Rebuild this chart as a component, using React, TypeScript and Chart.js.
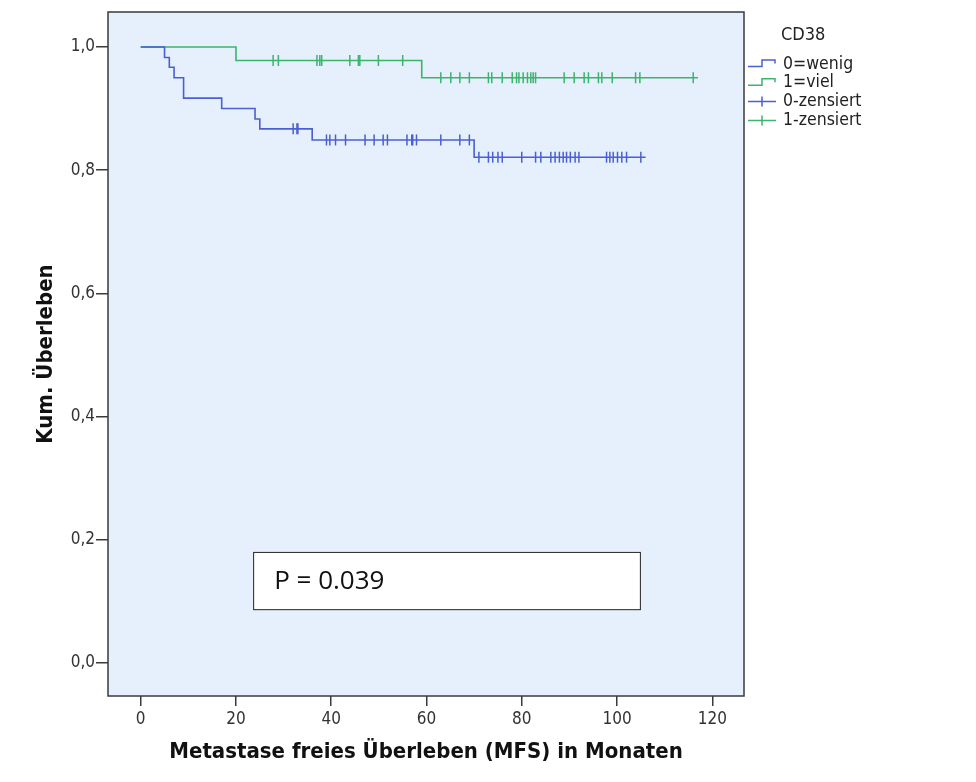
import React, { useEffect, useRef } from 'react';
import { Chart, registerables } from 'chart.js';

Chart.register(...registerables);

// ---------- data ----------
const legendTitle = 'CD38';
const groupLabels = ['0=wenig', '1=viel', '0-zensiert', '1-zensiert'];

const lowEventMonths = [0, 5, 6, 7, 9, 17, 24, 25, 36, 70, 106];
const lowSurvival = [1, 0.983, 0.967, 0.95, 0.917, 0.9, 0.883, 0.867, 0.849, 0.821, 0.821];

const highEventMonths = [0, 20, 59, 117];
const highSurvival = [1, 0.978, 0.95, 0.95];

const lowCensoredMonths = [
  32.0, 32.8, 33.0, 39.0, 39.7, 40.9, 43.0, 47.1, 49.0, 50.9, 51.8, 55.9, 56.9, 57.1, 57.9,
  63.0, 67.0, 69.0, 71.0, 73.0, 73.9, 75.0, 75.9, 80.0, 82.9, 84.0, 86.1, 87.0, 87.9, 88.7,
  89.4, 90.2, 91.2, 92.0, 97.8, 98.5, 99.2, 100.1, 101.0, 102.0, 105.0,
];
const highCensoredMonths = [
  27.8, 28.9, 37.0, 37.6, 38.0, 43.9, 45.7, 46.0, 49.9, 55.0, 63.0, 65.1, 67.0, 69.0, 73.0,
  73.7, 75.9, 78.0, 78.9, 79.4, 80.3, 81.2, 81.9, 82.4, 82.9, 88.9, 91.0, 93.1, 94.0, 96.1,
  96.8, 99.0, 103.9, 104.8, 116.0,
];

const xTickValues = [0, 20, 40, 60, 80, 100, 120];
const xTickLabels = ['0', '20', '40', '60', '80', '100', '120'];
const yTickValues = [0, 0.2, 0.4, 0.6, 0.8, 1.0];
const yTickLabels = ['0,0', '0,2', '0,4', '0,6', '0,8', '1,0'];

const xTitle = 'Metastase freies Überleben (MFS) in Monaten';
const yTitle = 'Kum. Überleben';
const pValueText = 'P = 0.039';

// ---------- styles ----------
const BLUE = '#4a5fd5';
const GREEN = '#3bb46c';
const BG = '#e6f0fc';
const AXIS = '#3a3a3a';
const TEXT = '#222222';
const FONT = '"DejaVu Sans Condensed", "DejaVu Sans", sans-serif';

function survivalAt(times: number[], surv: number[], t: number) {
  let s = surv[0];
  for (let i = 0; i < times.length; i++) {
    if (times[i] <= t) s = surv[i];
  }
  return s;
}

const extrasPlugin = {
  id: 'kmExtras',
  beforeDraw(chart: any) {
    const { ctx, chartArea: a } = chart;
    ctx.save();
    ctx.fillStyle = BG;
    ctx.fillRect(a.left, a.top, a.right - a.left, a.bottom - a.top);
    ctx.restore();
  },
  afterDatasetsDraw(chart: any) {
    const { ctx, chartArea: a, scales } = chart;
    ctx.save();
    // frame
    ctx.strokeStyle = AXIS;
    ctx.lineWidth = 1.5;
    ctx.strokeRect(a.left, a.top, a.right - a.left, a.bottom - a.top);
    // p-value box
    const x1 = scales.x.getPixelForValue(23.6);
    const x2 = scales.x.getPixelForValue(104.8);
    const y1 = scales.y.getPixelForValue(0.18);
    const y2 = scales.y.getPixelForValue(0.087);
    ctx.fillStyle = '#ffffff';
    ctx.fillRect(x1, y1, x2 - x1, y2 - y1);
    ctx.strokeStyle = '#222222';
    ctx.lineWidth = 1;
    ctx.strokeRect(x1 + 0.5, y1 + 0.5, x2 - x1, y2 - y1);
    ctx.fillStyle = '#111111';
    ctx.font = '26px "Open Sans", "Noto Sans", sans-serif';
    ctx.textBaseline = 'middle';
    ctx.textAlign = 'left';
    ctx.fillText(pValueText, x1 + 21, (y1 + y2) / 2 + 1);
    ctx.restore();
  },
  afterDraw(chart: any) {
    const { ctx, chartArea: a } = chart;
    ctx.save();
    const ix0 = a.right + 4;
    const ix1 = ix0 + 27;
    const ixm = ix0 + 14;
    const tx = ix0 + 35;
    ctx.fillStyle = TEXT;
    ctx.textBaseline = 'middle';
    ctx.textAlign = 'left';
    ctx.font = '18px ' + FONT;
    ctx.fillText(legendTitle, a.right + 37, a.top + 23);
    ctx.font = '17.5px ' + FONT;
    const colors = [BLUE, GREEN, BLUE, GREEN];
    groupLabels.forEach((label, i) => {
      const y = a.top + 52 + i * 18.8;
      ctx.strokeStyle = colors[i];
      ctx.lineWidth = 1.5;
      ctx.beginPath();
      if (i < 2) {
        ctx.moveTo(ix0, y + 2.5);
        ctx.lineTo(ixm, y + 2.5);
        ctx.lineTo(ixm, y - 4);
        ctx.lineTo(ix1, y - 4);
        ctx.lineTo(ix1, y - 0.5);
      } else {
        ctx.moveTo(ix0, y);
        ctx.lineTo(ix1 + 1, y);
        ctx.moveTo(ixm, y - 5);
        ctx.lineTo(ixm, y + 5);
      }
      ctx.stroke();
      ctx.fillStyle = TEXT;
      ctx.fillText(label, tx, y);
    });
    ctx.restore();
  },
};

export default function App() {
  const canvasRef = useRef<HTMLCanvasElement | null>(null);

  useEffect(() => {
    const canvas = canvasRef.current;
    if (!canvas) return;

    const lowLine = lowEventMonths.map((t, i) => ({ x: t, y: lowSurvival[i] }));
    const highLine = highEventMonths.map((t, i) => ({ x: t, y: highSurvival[i] }));
    const lowCens = lowCensoredMonths.map((t) => ({ x: t, y: survivalAt(lowEventMonths, lowSurvival, t) }));
    const highCens = highCensoredMonths.map((t) => ({ x: t, y: survivalAt(highEventMonths, highSurvival, t) }));

    const chart = new Chart(canvas, {
      type: 'line',
      data: {
        datasets: [
          {
            label: groupLabels[0],
            data: lowLine,
            borderColor: BLUE,
            borderWidth: 1.6,
            stepped: true,
            pointRadius: 0,
            fill: false,
          },
          {
            label: groupLabels[1],
            data: highLine,
            borderColor: GREEN,
            borderWidth: 1.6,
            stepped: true,
            pointRadius: 0,
            fill: false,
          },
          {
            label: groupLabels[2],
            data: lowCens,
            showLine: false,
            pointStyle: 'line',
            pointRotation: 90,
            pointRadius: 5.5,
            pointBorderWidth: 1.5,
            pointBorderColor: BLUE,
            borderColor: BLUE,
          },
          {
            label: groupLabels[3],
            data: highCens,
            showLine: false,
            pointStyle: 'line',
            pointRotation: 90,
            pointRadius: 5.5,
            pointBorderWidth: 1.5,
            pointBorderColor: GREEN,
            borderColor: GREEN,
          },
        ],
      },
      options: {
        animation: false,
        responsive: false,
        devicePixelRatio: 1,
        events: [],
        layout: { padding: { top: 12, right: 232, left: 0, bottom: 0 } },
        plugins: {
          legend: { display: false },
          tooltip: { enabled: false },
          title: { display: false },
        },
        scales: {
          x: {
            type: 'linear',
            min: -6.87,
            max: 126.66,
            afterFit: (s: any) => {
              s.height = 86;
            },
            afterBuildTicks: (s: any) => {
              s.ticks = xTickValues.map((v) => ({ value: v }));
            },
            border: { display: false },
            grid: {
              drawOnChartArea: false,
              drawTicks: true,
              tickLength: 10,
              color: AXIS,
              lineWidth: 1.5,
            },
            ticks: {
              padding: 3,
              color: '#333333',
              font: { family: FONT, size: 17 },
              maxRotation: 0,
              callback: (v: any) => {
                const i = xTickValues.indexOf(Number(v));
                return i >= 0 ? xTickLabels[i] : '';
              },
            },
            title: {
              display: true,
              text: xTitle,
              color: '#111111',
              font: { family: FONT, size: 22, weight: 'bold' },
              padding: { top: 0, bottom: 17 },
            },
          },
          y: {
            type: 'linear',
            min: -0.054,
            max: 1.0568,
            afterFit: (s: any) => {
              s.width = 108;
            },
            afterBuildTicks: (s: any) => {
              s.ticks = yTickValues.map((v) => ({ value: v }));
            },
            border: { display: false },
            grid: {
              drawOnChartArea: false,
              drawTicks: true,
              tickLength: 12,
              color: AXIS,
              lineWidth: 1.5,
            },
            ticks: {
              padding: 1,
              color: '#333333',
              font: { family: FONT, size: 17 },
              callback: (v: any) => {
                const i = yTickValues.findIndex((t) => Math.abs(t - Number(v)) < 1e-6);
                return i >= 0 ? yTickLabels[i] : '';
              },
            },
            title: {
              display: true,
              text: yTitle,
              color: '#111111',
              font: { family: FONT, size: 22, weight: 'bold' },
              padding: { top: 33, bottom: 0 },
            },
          },
        },
      },
      plugins: [extrasPlugin],
    });

    return () => {
      chart.destroy();
    };
  }, []);

  return (
    <div style={{ position: 'fixed', left: 0, top: 0, width: 976, height: 782, background: '#ffffff' }}>
      <canvas ref={canvasRef} width={976} height={782} style={{ width: 976, height: 782, display: 'block' }} />
    </div>
  );
}
